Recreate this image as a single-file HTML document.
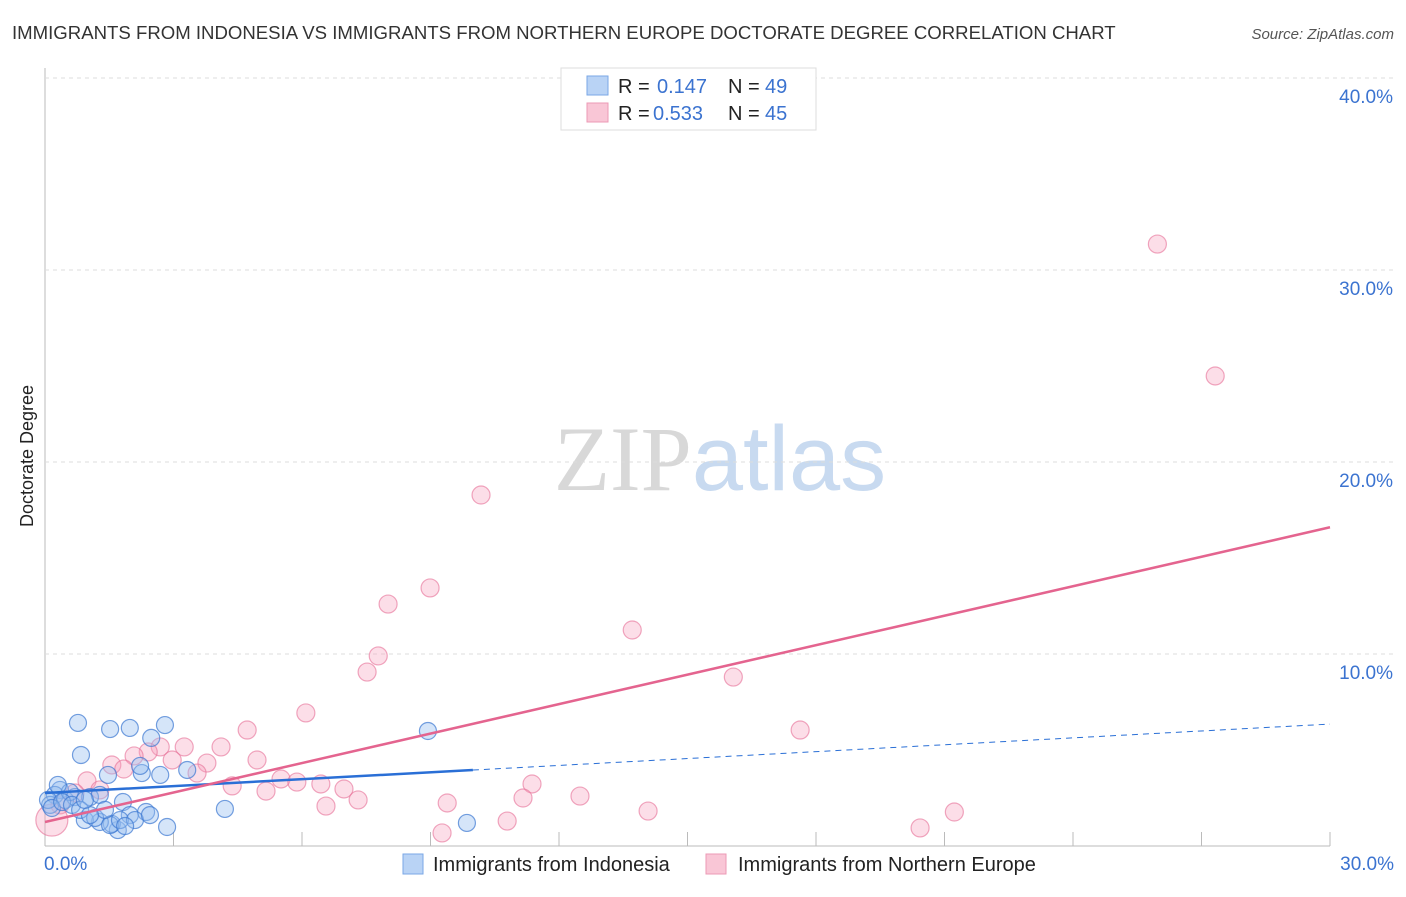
<!DOCTYPE html>
<html><head><meta charset="utf-8"><style>
body{margin:0;background:#fff;font-family:"Liberation Sans",sans-serif;}
svg text{font-family:"Liberation Sans",sans-serif;}
</style></head><body>
<svg id="chart" width="1406" height="892" xmlns="http://www.w3.org/2000/svg">
<text x="12" y="39" font-size="18.6" fill="#333">IMMIGRANTS FROM INDONESIA VS IMMIGRANTS FROM NORTHERN EUROPE DOCTORATE DEGREE CORRELATION CHART</text>
<text x="1394" y="39" font-size="15" fill="#555" text-anchor="end" font-style="italic">Source: ZipAtlas.com</text>
<text transform="translate(33,456) rotate(-90)" font-size="18" fill="#222" text-anchor="middle">Doctorate Degree</text>
<text x="720" y="490" font-size="92" text-anchor="middle"><tspan fill="#d8d8d8" font-family="Liberation Serif">ZIP</tspan><tspan fill="#c8daf0">atlas</tspan></text>
<g id="grid"></g><g id="pts"></g><g id="lines"></g>
<g>
<rect x="561" y="68" width="255" height="62" fill="#fff" stroke="#ddd"/>
<rect x="587" y="76" width="21" height="19" fill="#b9d3f5" stroke="#7aa7e6"/>
<rect x="587" y="103" width="21" height="19" fill="#f9c6d6" stroke="#ec9ab5"/>
<text x="618" y="93" font-size="20" fill="#222">R =</text>
<text x="657" y="93" font-size="20" fill="#3b73d0">0.147</text>
<text x="728" y="93" font-size="20" fill="#222">N =</text>
<text x="765" y="93" font-size="20" fill="#3b73d0">49</text>
<text x="618" y="120" font-size="20" fill="#222">R =</text>
<text x="653" y="120" font-size="20" fill="#3b73d0">0.533</text>
<text x="728" y="120" font-size="20" fill="#222">N =</text>
<text x="765" y="120" font-size="20" fill="#3b73d0">45</text>
</g>
<g>
<rect x="403" y="854" width="20" height="20" fill="#b9d3f5" stroke="#7aa7e6"/>
<text x="433" y="871" font-size="20" fill="#222">Immigrants from Indonesia</text>
<rect x="706" y="854" width="20" height="20" fill="#f9c6d6" stroke="#ec9ab5"/>
<text x="738" y="871" font-size="20" fill="#222">Immigrants from Northern Europe</text>
</g>
</svg>
<script>
const blueX=[0.77,1.52,1.98,2.80,0.84,2.48,2.26,2.69,3.32,1.47,2.22,1.05,1.28,1.82,4.20,2.36,1.98,2.85,1.70,1.56,1.28,0.93,1.17,0.35,0.23,0.12,0.47,0.70,0.58,0.07,0.30,1.52,1.75,8.94,9.85,0.16,0.40,0.63,0.82,1.40,1.05,2.10,2.45,1.87,0.93];
const blueY=[6.41,6.09,6.15,6.30,4.74,5.63,3.80,3.70,3.96,3.70,4.17,2.55,2.66,2.29,1.93,1.77,1.61,0.99,0.83,1.15,1.25,1.35,1.46,2.92,2.66,2.14,2.40,2.55,2.81,2.40,3.18,1.09,1.35,5.99,1.20,1.98,2.29,2.14,1.88,1.88,1.61,1.35,1.61,1.04,2.40];
const pinkX=[25.97,27.32,10.18,8.99,8.01,13.71,7.78,7.52,16.07,6.09,4.72,17.63,3.25,4.11,2.69,2.41,2.08,3.78,4.95,2.97,1.56,1.84,3.55,5.51,5.88,4.37,6.44,6.98,5.16,11.37,0.98,12.49,11.16,7.31,9.39,6.56,14.08,21.23,10.79,20.43,9.27,1.28,0.70,0.35,0.16];
const pinkY=[31.35,24.48,18.28,13.44,12.60,11.25,9.90,9.06,8.80,6.93,6.04,6.04,5.16,5.16,5.16,4.90,4.69,4.32,4.48,4.48,4.22,4.01,3.80,3.49,3.33,3.13,3.23,2.97,2.86,3.23,3.39,2.60,2.50,2.40,2.24,2.08,1.82,1.77,1.30,0.94,0.68,2.92,2.76,2.14,1.35];
const blueTrend=[2.76,6.35]; const blueSolidEnd=9.99;
const pinkTrend=[1.25,16.6];
const yTicks=[10,20,30,40]; const xTicks=[0,30];
const X=v=>45+v/30*1285, Y=v=>846-v*19.2;
const NS="http://www.w3.org/2000/svg";
function mk(p,t,a){const e=document.createElementNS(NS,t);for(const k in a)e.setAttribute(k,a[k]);p.appendChild(e);return e;}
const g=document.getElementById('grid');
const ax=mk(g,'line',{x1:45,y1:68,x2:45,y2:846,stroke:'#bbb'});


const bx=mk(g,'line',{x1:45,y1:846,x2:1330,y2:846,stroke:'#bbb'});


for(let i=1;i<=10;i++){const x=45+i*128.5;const t=mk(g,'line',{x1:x,y1:832,x2:x,y2:846,stroke:'#bbb'});

}
yTicks.forEach(v=>{const l=mk(g,'line',{x1:45,y1:Y(v),x2:1394,y2:Y(v),stroke:'#ddd','stroke-dasharray':'4,4'});


const t=mk(g,'text',{x:1393,y:Y(v)+25,'font-size':19,fill:'#3b73d0','text-anchor':'end'});t.textContent=v.toFixed(1)+'%';

});
xTicks.forEach(v=>{const t=mk(g,'text',{x:v==0?44:1394,y:870,'font-size':19,fill:'#3b73d0','text-anchor':v==0?'start':'end'});t.textContent=v.toFixed(1)+'%';

});
const P=document.getElementById('pts');
pinkX.forEach((v,i)=>{const r=i==pinkX.length-1?16:9;const c=mk(P,'circle',{cx:X(v),cy:Y(pinkY[i]),r:r,fill:'rgba(245,160,190,0.35)',stroke:'rgba(230,110,150,0.6)','stroke-width':1.2});

});
blueX.forEach((v,i)=>{const c=mk(P,'circle',{cx:X(v),cy:Y(blueY[i]),r:8.5,fill:'rgba(150,190,240,0.4)',stroke:'rgba(60,120,210,0.7)','stroke-width':1.2});

});
const L=document.getElementById('lines');
const bt=v=>blueTrend[0]+(blueTrend[1]-blueTrend[0])*v/30;
const l1=mk(L,'line',{x1:X(0),y1:Y(bt(0)),x2:X(blueSolidEnd),y2:Y(bt(blueSolidEnd)),stroke:'#2a6fd6','stroke-width':2.5});


const l2=mk(L,'line',{x1:X(blueSolidEnd),y1:Y(bt(blueSolidEnd)),x2:X(30),y2:Y(bt(30)),stroke:'#2a6fd6','stroke-width':1,'stroke-dasharray':'6,5'});


const l3=mk(L,'line',{x1:X(0),y1:Y(pinkTrend[0]),x2:X(30),y2:Y(pinkTrend[1]),stroke:'#e4648f','stroke-width':2.5});


</script>
</body></html>
